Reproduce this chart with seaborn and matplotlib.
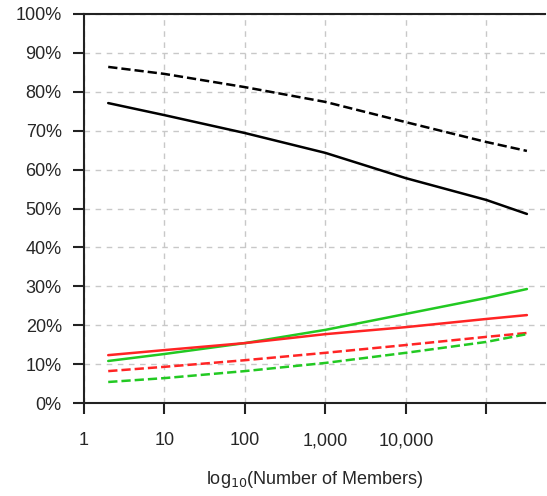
import matplotlib
matplotlib.use("Agg")
import matplotlib.pyplot as plt
import matplotlib.ticker as mticker
import seaborn as sns
import pandas as pd

members = [2, 10, 100, 1000, 10000, 100000, 320000]
black_solid = [77.1, 74.0, 69.4, 64.3, 57.8, 52.2, 48.6]
black_dashed = [86.4, 84.6, 81.2, 77.4, 72.2, 67.1, 64.8]
green_solid = [10.8, 12.6, 15.4, 18.8, 22.9, 27.0, 29.3]
red_solid = [12.3, 13.6, 15.4, 17.7, 19.5, 21.6, 22.6]
red_dashed = [8.2, 9.3, 11.0, 12.9, 14.9, 17.0, 18.0]
green_dashed = [5.4, 6.4, 8.2, 10.3, 12.9, 15.7, 17.7]

xticks = [1, 10, 100, 1000, 10000, 100000]
xtick_labels = ["1", "10", "100", "1,000", "10,000", ""]
yticks = list(range(0, 101, 10))

series = {
    "black_solid": (black_solid, "black", "-"),
    "black_dashed": (black_dashed, "black", "--"),
    "green_solid": (green_solid, "#22c922", "-"),
    "red_solid": (red_solid, "#ff2424", "-"),
    "red_dashed": (red_dashed, "#ff2424", "--"),
    "green_dashed": (green_dashed, "#22c922", "--"),
}

sns.set_style("white")
plt.rcParams["font.family"] = ["Liberation Sans", "DejaVu Sans"]

fig = plt.figure(figsize=(5.47, 4.96), dpi=100)
ax = fig.add_axes([84 / 547, 93 / 496, 461 / 547, 389 / 496])

for name, (vals, color, ls) in series.items():
    df = pd.DataFrame({"x": members, "y": vals})
    sns.lineplot(data=df, x="x", y="y", ax=ax, color=color, linestyle=ls,
                 linewidth=1.8, dashes=False if ls == "-" else (4, 2.8))

ax.set_xscale("log")
ax.set_xlim(1, 10 ** 5.73)
ax.set_ylim(0, 100)
ax.set_xticks(xticks)
ax.set_xticklabels(xtick_labels)
ax.xaxis.set_minor_locator(mticker.NullLocator())
ax.set_yticks(yticks)
ax.set_yticklabels([f"{v}%" for v in yticks])

ax.grid(True, which="major", color="#c8c8c8", linestyle=(0, (4, 4)), linewidth=1.0)
for s in ["left", "bottom", "top"]:
    ax.spines[s].set_visible(True)
    ax.spines[s].set_color("#222222")
    ax.spines[s].set_linewidth(1.5)
ax.spines["right"].set_visible(False)

ax.tick_params(axis="both", which="major", direction="out", length=8, width=1.5,
               color="#222222", labelsize=13, left=True, bottom=True)
ax.tick_params(axis="x", pad=13)
ax.tick_params(axis="y", pad=8)

ax.set_xlabel(r"log$_{10}$(Number of Members)", fontsize=13, labelpad=14)
ax.set_ylabel("")

fig.savefig("out.png", dpi=100)
